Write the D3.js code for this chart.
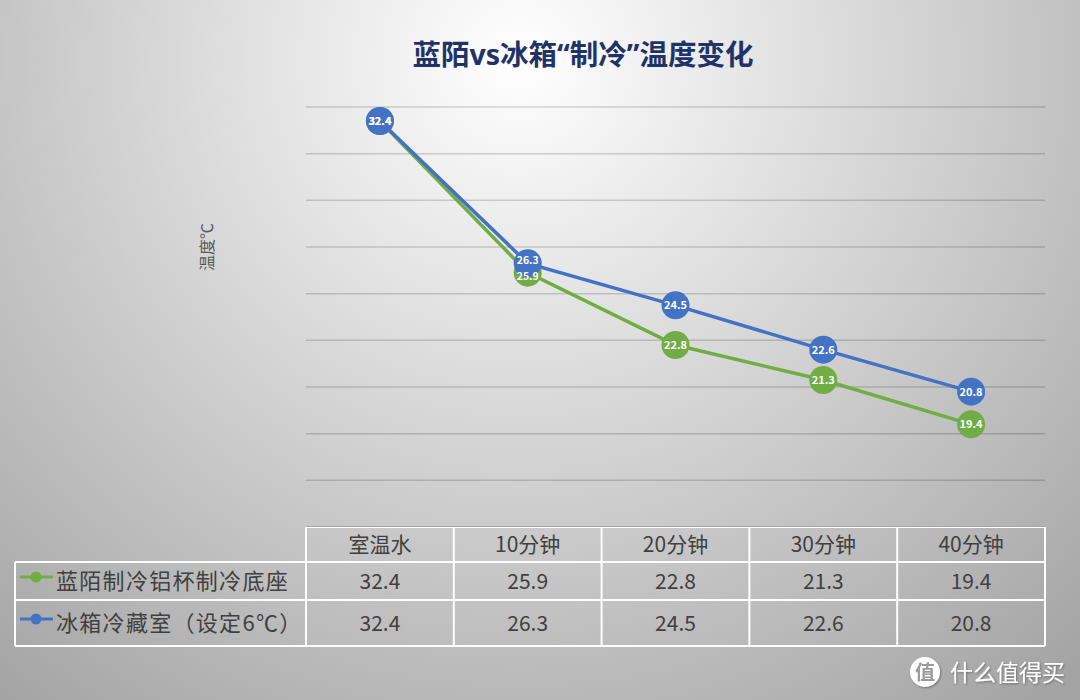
<!DOCTYPE html>
<html>
<head>
<meta charset="utf-8">
<script src="https://cdn.jsdelivr.net/npm/d3@7"></script>
<style>
  body { margin: 0; background: #fff; }
  svg { display: block; font-family: "Noto Sans CJK SC", "Noto Sans", sans-serif; }
</style>
</head>
<body>
<svg id="chart" width="1080" height="700"></svg>
<script>
// data
let categories = ["室温水", "10分钟", "20分钟", "30分钟", "40分钟"]
let seriesNames = ["蓝陌制冷铝杯制冷底座", "冰箱冷藏室（设定6℃）"]
let baseValues = [32.4, 25.9, 22.8, 21.3, 19.4]
let fridgeValues = [32.4, 26.3, 24.5, 22.6, 20.8]
let gridValues = [17, 19, 21, 23, 25, 27, 29, 31, 33]
let colors = ["#70ad47", "#4472c4"]

let width = 1080
let height = 700
let svg = d3.select("#chart")

// background gradient
let defs = svg.append("defs")
let grad = defs.append("radialGradient")
  .attr("id", "bg")
  .attr("gradientUnits", "userSpaceOnUse")
  .attr("cx", 520).attr("cy", 60).attr("r", 820)
grad.append("stop").attr("offset", "0%").attr("stop-color", "#ffffff")
grad.append("stop").attr("offset", "45%").attr("stop-color", "#d6d6d6")
grad.append("stop").attr("offset", "100%").attr("stop-color", "#a4a4a4")

let shadow = defs.append("filter").attr("id", "shadow")
shadow.append("feDropShadow").attr("dx", 1).attr("dy", 1).attr("stdDeviation", 1)
  .attr("flood-color", "#000").attr("flood-opacity", 0.35)

svg.append("rect").attr("width", width).attr("height", height).attr("fill", "url(#bg)")

// title
svg.append("text")
  .attr("x", 583).attr("y", 65)
  .attr("text-anchor", "middle")
  .attr("font-family", "'Noto Sans', 'Noto Sans CJK SC', sans-serif")
  .attr("font-size", 28.5).attr("font-weight", "bold")
  .attr("fill", "#1f3368")
  .text("蓝陌vs冰箱“制冷”温度变化")

// scales
let tableLeft = 306
let tableRight = 1045
let x = d3.scaleBand().domain(categories).range([tableLeft, tableRight])
let y = d3.scaleLinear().domain([15, 33]).range([527, 107])
let cx = (i) => x(categories[i]) + x.bandwidth() / 2

// gridlines
svg.append("g").selectAll("line")
  .data(gridValues)
  .enter().append("line")
  .attr("x1", tableLeft).attr("x2", tableRight)
  .attr("y1", d => y(d)).attr("y2", d => y(d))
  .attr("stroke", "rgba(0,0,0,0.16)")
  .attr("stroke-width", 1.5)

// y axis title
svg.append("text")
  .attr("transform", "translate(213,247) rotate(-90)")
  .attr("text-anchor", "middle")
  .attr("font-size", 16)
  .attr("fill", "#595959")
  .text("温度℃")

// lines + markers
let allSeries = [baseValues, fridgeValues]
let line = d3.line()
  .x((d, i) => cx(i))
  .y(d => y(d))

allSeries.forEach(function(vals, s) {
  svg.append("path")
    .datum(vals)
    .attr("d", line)
    .attr("fill", "none")
    .attr("stroke", colors[s])
    .attr("stroke-width", 3.5)
})

allSeries.forEach(function(vals, s) {
  svg.append("g").selectAll("circle")
    .data(vals)
    .enter().append("circle")
    .attr("cx", (d, i) => cx(i))
    .attr("cy", d => y(d))
    .attr("r", 14)
    .attr("fill", colors[s])
})

// data labels on top of all markers
allSeries.forEach(function(vals, s) {
  svg.append("g").selectAll("text")
    .data(vals)
    .enter().append("text")
    .attr("x", (d, i) => cx(i))
    .attr("y", (d, i) => y(d) + 4 + (i === 1 ? (s === 0 ? 3 : -3) : 0))
    .attr("text-anchor", "middle")
    .attr("font-size", (d, i) => i === 1 ? 10.5 : 11)
    .attr("font-weight", "bold")
    .attr("fill", "#ffffff")
    .text(d => d)
})

// data table
let headerTop = 527
let rowTops = [562, 600]
let tableBottom = 646
let legendLeft = 15
let tg = svg.append("g")

tg.selectAll(".hdr")
  .data(categories)
  .enter().append("text")
  .attr("x", d => x(d) + x.bandwidth() / 2)
  .attr("y", headerTop + 25)
  .attr("text-anchor", "middle")
  .attr("font-size", 21)
  .attr("fill", "#404040")
  .text(d => d)

allSeries.forEach(function(vals, s) {
  let top = rowTops[s]
  let bottom = s === 0 ? rowTops[1] : tableBottom
  let mid = (top + bottom) / 2
  tg.selectAll(".v" + s)
    .data(vals)
    .enter().append("text")
    .attr("x", (d, i) => cx(i))
    .attr("y", mid + 8)
    .attr("text-anchor", "middle")
    .attr("font-size", 21)
    .attr("fill", "#404040")
    .text(d => d)
  tg.append("line")
    .attr("x1", 20).attr("x2", 53)
    .attr("y1", mid - 4).attr("y2", mid - 4)
    .attr("stroke", colors[s]).attr("stroke-width", 3)
  tg.append("circle")
    .attr("cx", 36).attr("cy", mid - 4).attr("r", 5.5)
    .attr("fill", colors[s])
  tg.append("text")
    .attr("x", 56).attr("y", mid + 8)
    .attr("font-size", 22)
    .attr("letter-spacing", 1.3)
    .attr("fill", "#404040")
    .text(seriesNames[s])
})

// table borders
let border = "#ffffff"
tg.append("line").attr("x1", tableLeft).attr("x2", tableRight)
  .attr("y1", headerTop).attr("y2", headerTop)
  .attr("stroke", border).attr("stroke-width", 2)
tg.append("line").attr("x1", tableLeft).attr("x2", tableRight)
  .attr("y1", headerTop - 0.5).attr("y2", headerTop - 0.5)
  .attr("stroke", "rgba(0,0,0,0.35)").attr("stroke-width", 1)
;[rowTops[0], rowTops[1], tableBottom].forEach(function(yy) {
  tg.append("line").attr("x1", legendLeft).attr("x2", tableRight)
    .attr("y1", yy).attr("y2", yy)
    .attr("stroke", border).attr("stroke-width", 2)
})
let colEdges = categories.map(c => x(c)).concat([tableRight])
colEdges.forEach(function(xx) {
  tg.append("line").attr("x1", xx).attr("x2", xx)
    .attr("y1", headerTop).attr("y2", tableBottom)
    .attr("stroke", border).attr("stroke-width", 2)
})
tg.append("line").attr("x1", legendLeft).attr("x2", legendLeft)
  .attr("y1", rowTops[0]).attr("y2", tableBottom)
  .attr("stroke", border).attr("stroke-width", 2)

// watermark
let wm = svg.append("g").attr("filter", "url(#shadow)")
wm.append("circle").attr("cx", 925).attr("cy", 672).attr("r", 15).attr("fill", "#ffffff")
wm.append("text").attr("x", 925).attr("y", 680)
  .attr("text-anchor", "middle").attr("font-size", 20).attr("font-weight", "bold")
  .attr("fill", "#9a9a9a").text("值")
wm.append("text").attr("x", 950).attr("y", 681)
  .attr("font-size", 23).attr("fill", "#ffffff")
  .text("什么值得买")
</script>
</body>
</html>
